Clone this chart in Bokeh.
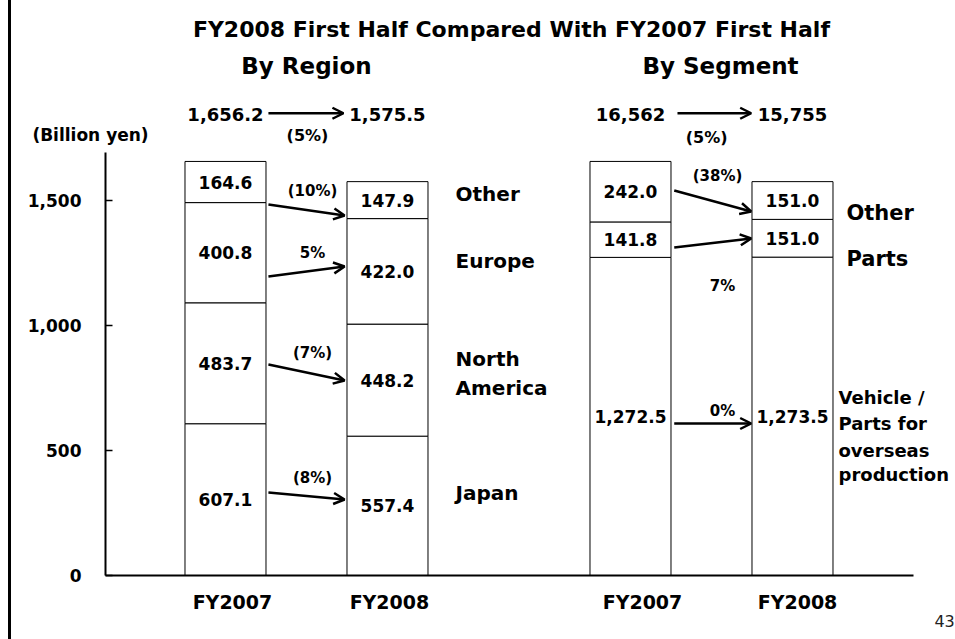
from bokeh.plotting import figure
from bokeh.models import (Arrow, OpenHead, ColumnDataSource, FixedTicker, LinearAxis,
                          NumeralTickFormatter)
from bokeh.core.properties import value
from bokeh.embed import file_html
from bokeh.resources import INLINE

# ---------------- data ----------------
years = ["FY2007", "FY2008"]
region_names = ["Japan", "North\nAmerica", "Europe", "Other"]
region_japan = [607.1, 557.4]
region_north_america = [483.7, 448.2]
region_europe = [400.8, 422.0]
region_other = [164.6, 147.9]
region_change = ["(8%)", "(7%)", "5%", "(10%)"]
region_total_change = "(5%)"

segment_names = ["Vehicle /\nParts for\noverseas\nproduction", "Parts", "Other"]
segment_vehicle = [1272.5, 1273.5]
segment_parts = [141.8, 151.0]
segment_other = [242.0, 151.0]
segment_change = ["0%", "7%", "(38%)"]
segment_totals = ["16,562", "15,755"]
segment_total_change = "(5%)"

y_ticks = [0, 500, 1000, 1500]
unit_label = "(Billion yen)"
title_text = "FY2008 First Half Compared With FY2007 First Half"
panel_titles = ["By Region", "By Segment"]
page_number = "43"

FONT = value("DejaVu Sans")
BORDER_CSS = {"background": "linear-gradient(to right, #ffffff 0px, #ffffff 8px, #000000 8px, "
                            "#000000 11px, #ffffff 11px, #ffffff 100%)"}

region_x = [1, 2]
segment_x = [3.5, 4.5]
bar_w = 0.5

def txt(fig, x, y, t, size, align="center", bold=True, color="black"):
    fig.text(x=x, y=y, text=t, text_font=FONT,
             text_font_style="bold" if bold else "normal",
             text_font_size=size, text_align=align, text_baseline="middle",
             text_color=color)

# ---------------- header figure ----------------
top = figure(width=955, height=152, output_backend="svg", toolbar_location=None,
             x_range=(-0.3889, 5.5062), y_range=(1692, 2300),
             x_axis_location=None, y_axis_location=None,
             min_border_left=0, min_border_right=0, min_border_top=0, min_border_bottom=0)
top.grid.visible = False
top.outline_line_color = None
top.background_fill_color = None
top.border_fill_color = None
top.styles = BORDER_CSS

# ---------------- main figure ----------------
p = figure(width=955, height=487, output_backend="svg", toolbar_location=None,
           x_range=(0.2593, 5.5062), y_range=(0, 1692),
           min_border_left=105, min_border_right=0, min_border_top=0,
           min_border_bottom=64)
p.grid.visible = False
p.outline_line_color = None
p.background_fill_color = "white"
p.border_fill_color = None
p.styles = BORDER_CSS

def draw_stack(xs, layers):
    bottoms = [0.0] * len(xs)
    mids = []
    for layer in layers:
        tops = [b + v for b, v in zip(bottoms, layer)]
        p.vbar(x=xs, bottom=bottoms, top=tops, width=bar_w, fill_color="white",
               line_color="black", line_width=1)
        mids.append([(b + t) / 2 for b, t in zip(bottoms, tops)])
        bottoms = tops
    return mids, bottoms

r_layers = [region_japan, region_north_america, region_europe, region_other]
s_layers = [segment_vehicle, segment_parts, segment_other]
r_mids, r_tops = draw_stack(region_x, r_layers)
s_mids, s_tops = draw_stack(segment_x, s_layers)

# bar value labels
for layer, mids in zip(r_layers, r_mids):
    txt(p, region_x, mids, [f"{v:,.1f}" for v in layer], "17px")
for layer, mids in zip(s_layers, s_mids):
    txt(p, segment_x, mids, [f"{v:,.1f}" for v in layer], "17px")

# axes
yax = p.yaxis[0]
yax.ticker = FixedTicker(ticks=y_ticks)
yax.formatter = NumeralTickFormatter(format="0,0")
yax.bounds = (0, 1692)
yax.axis_line_width = 2
yax.axis_line_color = "black"
yax.major_tick_line_color = "black"
yax.major_tick_line_width = 1.5
yax.major_tick_in = 7
yax.major_tick_out = 0
yax.minor_tick_line_color = None
yax.major_label_standoff = 24
yax.major_label_text_color = "black"
yax.major_label_text_font = "DejaVu Sans"
yax.major_label_text_font_style = "bold"
yax.major_label_text_font_size = "17px"

cat_ticks = [1.043, 2.012, 3.574, 4.531]
xax = p.xaxis[0]
xax.ticker = FixedTicker(ticks=cat_ticks)
xax.major_label_overrides = {t: years[i % 2] for i, t in enumerate(cat_ticks)}
xax.bounds = (0.2593, 5.247)
xax.axis_line_width = 2
xax.axis_line_color = "black"
xax.major_tick_in = 0
xax.major_tick_out = 0
xax.minor_tick_line_color = None
xax.major_label_standoff = 15
xax.major_label_text_color = "black"
xax.major_label_text_font = "DejaVu Sans"
xax.major_label_text_font_style = "bold"
xax.major_label_text_font_size = "19px"

# page number as a second, line-less bottom axis
pn_tick = 5.448
pax = LinearAxis(ticker=FixedTicker(ticks=[pn_tick]),
                 major_label_overrides={pn_tick: page_number},
                 axis_line_color=None, major_tick_line_color=None,
                 minor_tick_line_color=None, major_label_standoff=-7,
                 major_label_text_font="DejaVu Sans", major_label_text_font_size="16px",
                 major_label_text_color="#222222")
p.add_layout(pax, "below")

# header texts
txt(top, [2.765], [2184], [title_text], "22px")
txt(top, [1.5], [2040], [panel_titles[0]], "23px")
txt(top, [4.056], [2040], [panel_titles[1]], "23px")
txt(top, region_x, [1844, 1844], [f"{v:,.1f}" for v in r_tops], "18px")
txt(top, segment_x, [1844, 1844], segment_totals, "18px")
txt(top, [1.506], [1760], [region_total_change], "16px")
txt(top, [3.97], [1752], [segment_total_change], "16px")
txt(top, [0.1667], [1764], [unit_label], "17px")

top_arrows = ColumnDataSource(dict(x0=[1.265, 3.79], y0=[1849, 1849],
                                   x1=[1.728, 4.245], y1=[1849, 1849]))
top.add_layout(Arrow(source=top_arrows, x_start="x0", y_start="y0", x_end="x1", y_end="y1",
                     line_width=2.5, line_color="black",
                     end=OpenHead(size=11, line_width=2.5, line_color="black")))

# change labels
txt(p, [1.537] * 4, [392, 892, 1292, 1540], region_change, "15px")
txt(p, [4.068, 4.068, 4.037], [660, 1160, 1600], segment_change, "15px")

# change arrows
arrows = ColumnDataSource(dict(
    x0=[1.265, 1.265, 1.265, 1.265, 3.77, 3.77, 3.77],
    y0=[332, 844, 1196, 1484, 608, 1312, 1540],
    x1=[1.735, 1.735, 1.735, 1.735, 4.245, 4.245, 4.245],
    y1=[304, 780, 1236, 1440, 608, 1348, 1456],
))
p.add_layout(Arrow(source=arrows, x_start="x0", y_start="y0", x_end="x1", y_end="y1",
                   line_width=2.5, line_color="black",
                   end=OpenHead(size=11, line_width=2.5, line_color="black")))

# category names on right
txt(p, [2.42] * 5, [332, 752, 868, 1260, 1528],
    ["Japan", "America", "North", "Europe", "Other"], "20px", align="left")
seg_lines = segment_names[0].split("\n")
txt(p, [4.784] * 4, [712, 608, 500, 404], seg_lines, "18px", align="left")
txt(p, [4.833, 4.833], [1268, 1452], [segment_names[1], segment_names[2]], "21px", align="left")

open("out.html", "w").write(file_html([top, p], INLINE))
